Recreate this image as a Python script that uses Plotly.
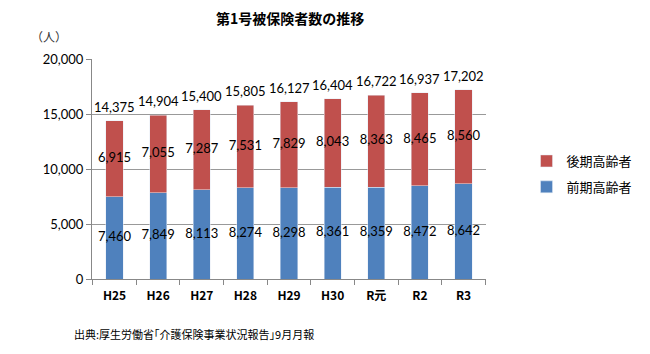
import plotly.graph_objects as go

categories = ["H25", "H26", "H27", "H28", "H29", "H30", "R元", "R2", "R3"]
zenki = [7460, 7849, 8113, 8274, 8298, 8361, 8359, 8472, 8642]
kouki = [6915, 7055, 7287, 7531, 7829, 8043, 8363, 8465, 8560]
totals = [14375, 14904, 15400, 15805, 16127, 16404, 16722, 16937, 17202]

BLUE = "#4F81BD"
RED = "#C0504D"
FONT = "Lato, Noto Sans CJK JP, sans-serif"
JFONT = "Noto Sans CJK JP, sans-serif"
LBL = dict(color="black", size=13, family=FONT)

fig = go.Figure()
fig.add_trace(go.Bar(
    x=categories, y=zenki, name="前期高齢者", marker_color=BLUE,
    legendgroup="a", legendrank=2,
))
fig.add_trace(go.Bar(
    x=categories, y=kouki, name="後期高齢者", marker_color=RED,
    legendgroup="b", legendrank=1,
))
# segment value labels (centred in each segment)
fig.add_trace(go.Scatter(
    x=categories, y=[z / 2 for z in zenki], mode="text",
    text=[f"{v:,}" for v in zenki], textposition="middle center",
    textfont=LBL, showlegend=False, hoverinfo="skip", cliponaxis=False,
))
fig.add_trace(go.Scatter(
    x=categories, y=[z + k / 2 for z, k in zip(zenki, kouki)], mode="text",
    text=[f"{v:,}" for v in kouki], textposition="middle center",
    textfont=LBL, showlegend=False, hoverinfo="skip", cliponaxis=False,
))
for c, t in zip(categories, totals):
    fig.add_annotation(x=c, y=t, text=f"{t:,}", showarrow=False,
                       yanchor="bottom", yshift=4, font=LBL)

fig.update_layout(
    width=650, height=354,
    barmode="stack", bargap=0.61,
    plot_bgcolor="white", paper_bgcolor="white",
    margin=dict(l=92, r=140, t=59, b=75),
    font=dict(family=FONT, size=12, color="black"),
    legend=dict(
        x=(553 - 92) / 418, y=(279 - 174) / 220, xanchor="left", yanchor="middle",
        traceorder="grouped", font=dict(family=JFONT, size=13),
        itemwidth=30, tracegroupgap=6, bgcolor="rgba(0,0,0,0)",
    ),
    showlegend=True,
)
fig.update_xaxes(
    type="category", showline=True, linecolor="#888888", linewidth=1,
    ticks="outside", tickson="boundaries", ticklen=5, tickcolor="#888888",
    tickfont=dict(family=JFONT, size=12, color="black", weight="bold"),
    ticklabelstandoff=6, showgrid=False,
)
fig.update_yaxes(
    range=[0, 20000], tickvals=[0, 5000, 10000, 15000, 20000],
    tickformat=",", showline=True, linecolor="#888888", linewidth=1,
    ticks="outside", ticklen=5, tickcolor="#888888",
    showgrid=True, gridcolor="#999999", gridwidth=1,
    tickfont=dict(family=FONT, size=13, color="black"),
    zeroline=False,
)

fig.add_annotation(text="<b>第1号被保険者数の推移</b>", xref="paper", yref="paper",
                   x=(302 - 92) / 418, y=(279 - 18) / 220, xanchor="center", yanchor="middle",
                   font=dict(family=JFONT, size=14), showarrow=False)
fig.add_annotation(text="（人）", xref="paper", yref="paper",
                   x=(46 - 92) / 418, y=(279 - 37) / 220, xanchor="center", yanchor="middle",
                   font=dict(family=JFONT, size=12, color="#333333"), showarrow=False)
fig.add_annotation(text="出典:厚生労働省｢介護保険事業状況報告｣9月月報", xref="paper", yref="paper",
                   x=(71 - 92) / 418, y=(279 - 334) / 220, xanchor="left", yanchor="middle",
                   font=dict(family=JFONT, size=11), showarrow=False)

fig.write_html("out.html")
